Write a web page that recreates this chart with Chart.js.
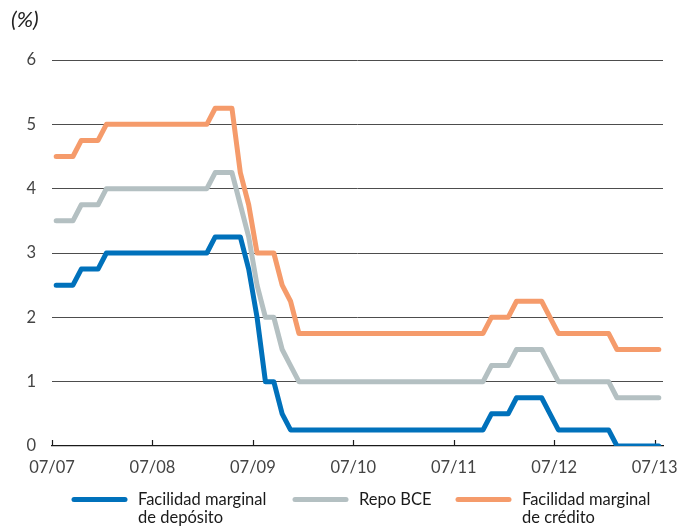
<!DOCTYPE html>
<html>
<head>
<meta charset="utf-8">
<script src="https://cdn.jsdelivr.net/npm/chart.js@4.4.1/dist/chart.umd.min.js"></script>
<style>
  html, body { margin: 0; padding: 0; background: #fff; }
  #wrap { position: relative; width: 696px; height: 527px; }
</style>
</head>
<body>
<div id="wrap"><canvas id="ratesChart"></canvas></div>
<script>
// monthly values, one per month from the first tick to the last (73 points)
const tickLabels = ["07/07", "07/08", "07/09", "07/10", "07/11", "07/12", "07/13"];

const deposito = [
  2.5, 2.5, 2.5, 2.75, 2.75, 2.75, 3, 3, 3, 3, 3, 3, 3, 3, 3, 3, 3, 3, 3,
  3.25, 3.25, 3.25, 3.25, 2.75, 2, 1, 1, 0.5,
  0.25, 0.25, 0.25, 0.25, 0.25, 0.25, 0.25, 0.25, 0.25, 0.25, 0.25, 0.25,
  0.25, 0.25, 0.25, 0.25, 0.25, 0.25, 0.25, 0.25, 0.25, 0.25, 0.25, 0.25,
  0.5, 0.5, 0.5, 0.75, 0.75, 0.75, 0.75, 0.5,
  0.25, 0.25, 0.25, 0.25, 0.25, 0.25, 0.25,
  0, 0, 0, 0, 0, 0
];

const repoBCE = [
  3.5, 3.5, 3.5, 3.75, 3.75, 3.75, 4, 4, 4, 4, 4, 4, 4, 4, 4, 4, 4, 4, 4,
  4.25, 4.25, 4.25, 3.75, 3.25, 2.5, 2, 2, 1.5, 1.25,
  1, 1, 1, 1, 1, 1, 1, 1, 1, 1, 1, 1,
  1, 1, 1, 1, 1, 1, 1, 1, 1, 1, 1,
  1.25, 1.25, 1.25, 1.5, 1.5, 1.5, 1.5, 1.25,
  1, 1, 1, 1, 1, 1, 1,
  0.75, 0.75, 0.75, 0.75, 0.75, 0.75
];

const credito = [
  4.5, 4.5, 4.5, 4.75, 4.75, 4.75, 5, 5, 5, 5, 5, 5, 5, 5, 5, 5, 5, 5, 5,
  5.25, 5.25, 5.25, 4.25, 3.75, 3, 3, 3, 2.5, 2.25,
  1.75, 1.75, 1.75, 1.75, 1.75, 1.75, 1.75, 1.75, 1.75, 1.75, 1.75, 1.75,
  1.75, 1.75, 1.75, 1.75, 1.75, 1.75, 1.75, 1.75, 1.75, 1.75, 1.75,
  2, 2, 2, 2.25, 2.25, 2.25, 2.25, 2,
  1.75, 1.75, 1.75, 1.75, 1.75, 1.75, 1.75,
  1.5, 1.5, 1.5, 1.5, 1.5, 1.5
];

const seriesNames = [
  ["Facilidad marginal", "de depósito"],
  ["Repo BCE"],
  ["Facilidad marginal", "de crédito"]
];
const seriesColors = ["#0071BB", "#B4C0C2", "#F59B6B"];

const FONT = "Lato, 'Open Sans', sans-serif";

// monthly observations sit in the middle of their month
function toPoints(arr) {
  return arr.map((v, i) => ({ x: i + 0.5, y: v }));
}

// small upward tick marks on the x axis, the "(%)" unit and the two-line legend
const decorations = {
  id: "decorations",
  beforeDatasetsDraw(chart) {
    const ctx = chart.ctx;
    const xs = chart.scales.x;
    const base = chart.chartArea.bottom;
    ctx.save();
    ctx.strokeStyle = "#1a1a1a";
    ctx.lineWidth = 1.2;
    xs.ticks.forEach(t => {
      const px = Math.round(xs.getPixelForValue(t.value)) + 0.5;
      ctx.beginPath();
      ctx.moveTo(px, base);
      ctx.lineTo(px, base - 6);
      ctx.stroke();
    });
    ctx.restore();
  },
  afterDraw(chart) {
    const ctx = chart.ctx;
    ctx.save();
    ctx.fillStyle = "#222";
    ctx.font = "italic 22px " + FONT;
    ctx.textBaseline = "alphabetic";
    ctx.fillText("(%)", 11, 27);

    const slots = [72, 293, 456];
    ctx.font = "16.5px " + FONT;
    ctx.lineCap = "round";
    chart.data.datasets.forEach((ds, k) => {
      const x0 = slots[k];
      ctx.strokeStyle = ds.borderColor;
      ctx.lineWidth = 5;
      ctx.beginPath();
      ctx.moveTo(x0 + 2, 499.5);
      ctx.lineTo(x0 + 53, 499.5);
      ctx.stroke();
      ctx.fillStyle = "#1a1a1a";
      seriesNames[k].forEach((line, j) => {
        ctx.fillText(line, x0 + 66, 505 + j * 18);
      });
    });
    ctx.restore();
  }
};

const lineStyle = {
  borderWidth: 5,
  pointRadius: 0,
  tension: 0,
  borderJoinStyle: "round",
  borderCapStyle: "round",
  fill: false
};

new Chart(document.getElementById("ratesChart"), {
  type: "line",
  data: {
    datasets: [
      Object.assign({ label: seriesNames[0].join(" "), data: toPoints(deposito), borderColor: seriesColors[0] }, lineStyle),
      Object.assign({ label: seriesNames[1].join(" "), data: toPoints(repoBCE), borderColor: seriesColors[1] }, lineStyle),
      Object.assign({ label: seriesNames[2].join(" "), data: toPoints(credito), borderColor: seriesColors[2] }, lineStyle)
    ]
  },
  options: {
    responsive: true,
    maintainAspectRatio: false,
    animation: false,
    layout: { padding: { top: 60, right: 33, left: 0, bottom: 0 } },
    plugins: {
      legend: { display: false },
      tooltip: { enabled: false }
    },
    scales: {
      x: {
        type: "linear",
        min: 0,
        max: 73,
        afterBuildTicks: scale => {
          scale.ticks = tickLabels.map((_, i) => ({ value: i * 12 }));
        },
        afterFit: scale => { scale.height = 81; },
        ticks: {
          callback: v => tickLabels[v / 12],
          color: "#444",
          font: { family: FONT, size: 16.5 },
          padding: 12,
          maxRotation: 0,
          autoSkip: false
        },
        grid: { display: false, drawTicks: false },
        border: { display: true, color: "#1a1a1a", width: 1.3 }
      },
      y: {
        min: 0,
        max: 6,
        afterFit: scale => { scale.width = 52; },
        ticks: {
          stepSize: 1,
          color: "#444",
          font: { family: FONT, size: 16.5 },
          padding: 16
        },
        grid: {
          color: ctx => ctx.tick.value === 0 ? "rgba(0,0,0,0)" : "#4d4d4d",
          lineWidth: 1,
          drawTicks: false
        },
        border: { display: false }
      }
    }
  },
  plugins: [decorations]
});
</script>
</body>
</html>
